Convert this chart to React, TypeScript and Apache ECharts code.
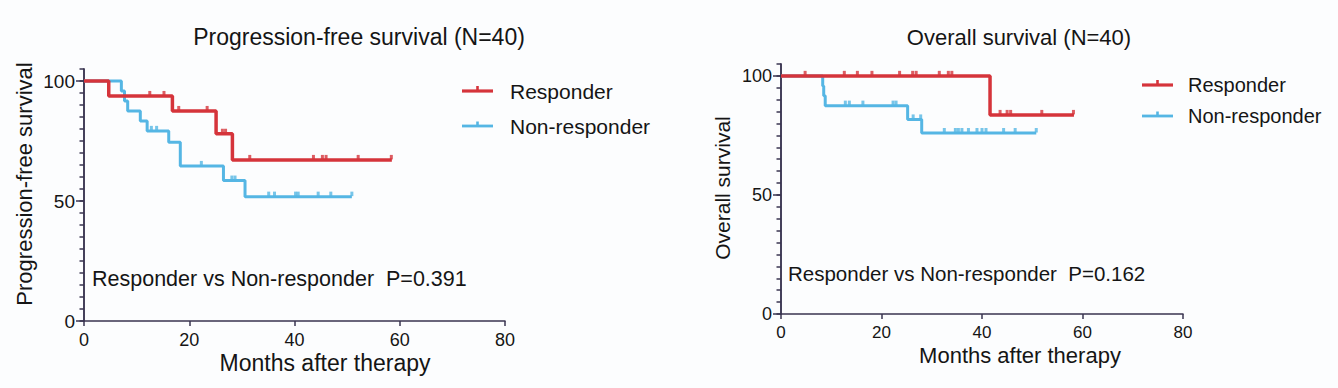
import React, { useEffect, useRef } from 'react';
import * as echarts from 'echarts';

// ---- Data ----
const titles = ['Progression-free survival (N=40)', 'Overall survival (N=40)'];
const yAxisNames = ['Progression-free survival', 'Overall survival'];
const xAxisName = 'Months after therapy';
const groupNames = ['Responder', 'Non-responder'];
const pValueTexts = ['Responder vs Non-responder  P=0.391', 'Responder vs Non-responder  P=0.162'];

const yMajorTicks = [0, 50, 100];
const yMinorStep = 5;
const yMax = 105;

// PFS
const pfsResponder = [[0, 100], [4.7, 93.75], [16.8, 87.5], [25.1, 78], [28.2, 67.1], [58.5, 67.1]];
const pfsResponderCensored = [[12.5, 93.75], [15.2, 93.75], [18.0, 87.5], [23.4, 87.5], [26.3, 78], [26.9, 78], [31.5, 67.1], [43.6, 67.1], [45.3, 67.1], [46.0, 67.1], [52.1, 67.1], [58.4, 67.1]];
const pfsNonResponder = [[0, 100], [7.1, 95.8], [7.7, 91.7], [8.3, 87.5], [10.7, 83.3], [12.0, 79.2], [16.1, 74.5], [18.3, 64.6], [26.5, 58.5], [30.6, 51.8], [50.9, 51.8]];
const pfsNonResponderCensored = [[12.8, 79.2], [13.8, 79.2], [22.3, 64.6], [28.1, 58.5], [28.7, 58.5], [35.1, 51.8], [36.2, 51.8], [40.2, 51.8], [40.7, 51.8], [44.5, 51.8], [46.9, 51.8], [50.9, 51.8]];

// OS
const osResponder = [[0, 100], [41.6, 83.6], [58.3, 83.6]];
const osResponderCensored = [[4.8, 100], [12.6, 100], [15.2, 100], [18.1, 100], [23.6, 100], [26.2, 100], [26.9, 100], [31.5, 100], [33.3, 100], [34.0, 100], [43.6, 83.6], [45.0, 83.6], [45.7, 83.6], [51.9, 83.6], [58.2, 83.6]];
const osNonResponder = [[0, 100], [8.3, 95.8], [8.5, 91.7], [8.8, 87.5], [25.2, 81.7], [28.0, 76], [50.8, 76]];
const osNonResponderCensored = [[12.8, 87.5], [13.6, 87.5], [16.3, 87.5], [22.3, 87.5], [22.9, 87.5], [26.3, 81.7], [27.8, 81.7], [32.5, 76], [34.7, 76], [35.3, 76], [36.0, 76], [37.3, 76], [39.0, 76], [40.0, 76], [40.8, 76], [44.3, 76], [46.6, 76], [50.8, 76]];

const RED = '#d5343b';
const BLUE = '#55b6e4';
const AXIS = '#3a3450';
const TEXT = '#151515';
const FONT = '"Liberation Sans", Arial, Helvetica, sans-serif';

export default function App() {
  const ref = useRef<HTMLDivElement>(null);

  useEffect(() => {
    if (!ref.current) return;
    const chart = echarts.init(ref.current, null, { renderer: 'svg' });

    const xAx = (gridIndex: number, fs: number, margin: number) => ({
      type: 'value',
      gridIndex,
      min: 0,
      max: 80,
      interval: 20,
      splitLine: { show: false },
      axisLine: { lineStyle: { color: AXIS, width: 1.5 } },
      axisTick: { show: true, inside: false, length: 5, lineStyle: { color: AXIS, width: 1.5 } },
      axisLabel: { fontSize: fs, color: TEXT, fontFamily: FONT, margin },
    });
    // main y axis: ticks every 5, labels only at 0/50/100
    const yMain = (gridIndex: number, fs: number) => ({
      type: 'value',
      gridIndex,
      position: 'left',
      min: 0,
      max: yMax,
      interval: yMinorStep,
      splitLine: { show: false },
      axisLine: { show: true, lineStyle: { color: AXIS, width: 1.5 } },
      axisTick: { show: true, length: 4.5, lineStyle: { color: AXIS, width: 1.5 } },
      axisLabel: {
        fontSize: fs,
        color: TEXT,
        fontFamily: FONT,
        margin: 9,
        formatter: (v: number) => (yMajorTicks.indexOf(v) >= 0 ? String(v) : ''),
      },
    });
    // overlay y axis: longer ticks at 0/50/100
    const yMajor = (gridIndex: number) => ({
      type: 'value',
      gridIndex,
      position: 'left',
      offset: 0,
      min: 0,
      max: yMax,
      splitLine: { show: false },
      axisLine: { show: true, lineStyle: { color: AXIS, width: 1.5 } },
      axisTick: { show: true, length: 8, customValues: yMajorTicks, lineStyle: { color: AXIS, width: 1.5 } },
      axisLabel: { show: false },
    });

    const lineS = (data: number[][], color: string, width: number, xi: number, yi: number, name: string, z: number) => ({
      type: 'line',
      name,
      data,
      step: 'end',
      xAxisIndex: xi,
      yAxisIndex: yi,
      showSymbol: false,
      symbol: 'none',
      lineStyle: { color, width },
      z,
      silent: true,
    });
    const censS = (data: number[][], color: string, xi: number, yi: number, name: string, z: number) => ({
      type: 'scatter',
      name,
      data,
      xAxisIndex: xi,
      yAxisIndex: yi,
      symbol: 'rect',
      symbolSize: [3, 4.5],
      symbolOffset: [0, -2.8],
      itemStyle: { color },
      z,
      silent: true,
    });

    const legendBlock = (x1: number, x2: number, yR: number, yN: number, tx: number, fs: number) => [
      { type: 'line', shape: { x1, y1: yR, x2, y2: yR }, style: { stroke: RED, lineWidth: 3.2 } },
      { type: 'rect', shape: { x: (x1 + x2) / 2 - 1.3, y: yR - 5, width: 2.6, height: 4 }, style: { fill: RED } },
      { type: 'line', shape: { x1, y1: yN, x2, y2: yN }, style: { stroke: BLUE, lineWidth: 2.8 } },
      { type: 'rect', shape: { x: (x1 + x2) / 2 - 1.3, y: yN - 4.5, width: 2.6, height: 3.5 }, style: { fill: BLUE } },
      { type: 'text', x: tx, y: yR, style: { text: groupNames[0], fontSize: fs, fontFamily: FONT, fill: TEXT, textAlign: 'left', textVerticalAlign: 'middle' } },
      { type: 'text', x: tx, y: yN, style: { text: groupNames[1], fontSize: fs, fontFamily: FONT, fill: TEXT, textAlign: 'left', textVerticalAlign: 'middle' } },
    ];

    const txt = (text: string, x: number, y: number, fs: number, align = 'center', rotation = 0) => ({
      type: 'text',
      x,
      y,
      rotation,
      style: { text, fontSize: fs, fontFamily: FONT, fill: TEXT, textAlign: align, textVerticalAlign: 'middle' },
    });

    chart.setOption({
      animation: false,
      backgroundColor: '#fcfdfe',
      grid: [
        { left: 84, top: 69, width: 421, height: 252 },
        { left: 781, top: 64, width: 402, height: 250 },
      ],
      xAxis: [xAx(0, 18, 10), xAx(1, 17, 10)],
      yAxis: [yMain(0, 19), yMajor(0), yMain(1, 18), yMajor(1)],
      series: [
        lineS(pfsNonResponder, BLUE, 3, 0, 0, 'PFS ' + groupNames[1], 2),
        censS(pfsNonResponderCensored, BLUE, 0, 0, 'PFS censored ' + groupNames[1], 3),
        lineS(pfsResponder, RED, 3.5, 0, 0, 'PFS ' + groupNames[0], 4),
        censS(pfsResponderCensored, RED, 0, 0, 'PFS censored ' + groupNames[0], 5),
        lineS(osNonResponder, BLUE, 3, 1, 2, 'OS ' + groupNames[1], 2),
        censS(osNonResponderCensored, BLUE, 1, 2, 'OS censored ' + groupNames[1], 3),
        lineS(osResponder, RED, 3.5, 1, 2, 'OS ' + groupNames[0], 4),
        censS(osResponderCensored, RED, 1, 2, 'OS censored ' + groupNames[0], 5),
      ],
      graphic: [
        txt(titles[0], 359, 37, 23),
        txt(titles[1], 1019, 37, 22),
        txt(yAxisNames[0], 24, 184, 22, 'center', Math.PI / 2),
        txt(yAxisNames[1], 722, 188, 21, 'center', Math.PI / 2),
        txt(xAxisName, 325, 363, 23),
        txt(xAxisName, 1020, 355, 22),
        txt(pValueTexts[0], 92, 279, 21.5, 'left'),
        txt(pValueTexts[1], 788, 273, 20.5, 'left'),
        ...legendBlock(462, 493, 91, 126, 510, 21),
        ...legendBlock(1142, 1173, 85, 116, 1188, 20),
      ],
    });

    return () => chart.dispose();
  }, []);

  return (
    <div
      ref={ref}
      style={{ position: 'absolute', left: 0, top: 0, width: 1338, height: 388 }}
    />
  );
}
